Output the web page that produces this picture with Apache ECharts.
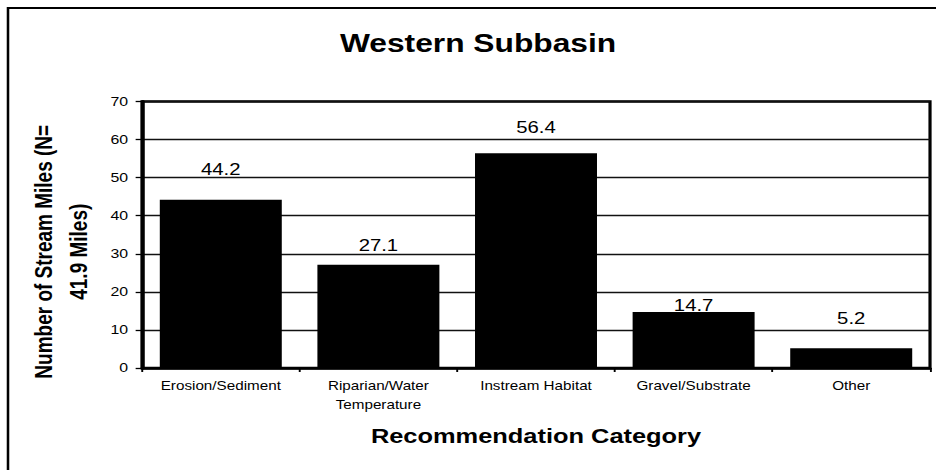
<!DOCTYPE html>
<html>
<head>
<meta charset="utf-8">
<script src="https://cdn.jsdelivr.net/npm/echarts@6/dist/echarts.min.js"></script>
<style>
  html, body { margin: 0; padding: 0; background: #fff; overflow: hidden; }
  #chart { width: 737px; height: 470px; transform: scaleX(1.27); transform-origin: 0 0; }
</style>
</head>
<body>
<div id="chart"></div>
<script>
// ---- data ----
const categories = ['Erosion/Sediment', 'Riparian/Water\nTemperature', 'Instream Habitat', 'Gravel/Substrate', 'Other'];
const streamMiles = [44.2, 27.1, 56.4, 14.7, 5.2];
const titleText = 'Western Subbasin';
const xAxisTitle = 'Recommendation Category';
const yAxisTitle = 'Number of Stream Miles (N=\n41.9 Miles)';
const yMin = 0, yMax = 70, yStep = 10;

// ---- style (label gaps above each bar) ----
const labelGaps = [22.5, 12, 18, -1, 21.5];
const FONT = "'Liberation Sans', Arial, sans-serif";

const chart = echarts.init(document.getElementById('chart'), null, { renderer: 'svg' });
chart.setOption({
  backgroundColor: '#fff',
  animation: false,
  graphic: [
    { type: 'rect', z: 100, silent: true,
      shape: { x: 6.3, y: 8, width: 900, height: 600 },
      style: { fill: 'none', stroke: '#000', lineWidth: 2 } },
    { type: 'text', x: 376.4, y: 43, z: 100,
      style: { text: titleText, align: 'center', verticalAlign: 'middle',
               fontSize: 25, fontWeight: 'bold', fontFamily: FONT, fill: '#000' } }
  ],
  grid: { left: 111.8, right: 4.7, top: 101.5, bottom: 102, show: true,
          borderColor: '#000', borderWidth: 2.5, backgroundColor: 'transparent' },
  xAxis: {
    type: 'category', data: categories,
    axisLine: { lineStyle: { color: '#000', width: 2.5 } },
    axisTick: { show: true, length: 4, lineStyle: { color: '#000', width: 1.5 } },
    axisLabel: { color: '#000', fontSize: 12, fontFamily: FONT, margin: 9, lineHeight: 18.5, interval: 0 },
    name: xAxisTitle, nameLocation: 'middle', nameGap: 58,
    nameTextStyle: { color: '#000', fontSize: 20, fontWeight: 'bold', fontFamily: FONT }
  },
  yAxis: {
    type: 'value', min: yMin, max: yMax, interval: yStep,
    axisLine: { show: true, lineStyle: { color: '#000', width: 3 } },
    axisTick: { show: true, length: 5, lineStyle: { color: '#000', width: 1.3 } },
    axisLabel: { color: '#000', fontSize: 12.5, fontFamily: FONT, margin: 11 },
    splitLine: { show: true, lineStyle: { color: '#111', width: 1.3 } },
    name: yAxisTitle, nameLocation: 'middle', nameGap: 32,
    nameTextStyle: { color: '#000', fontSize: 19, fontWeight: 'bold', fontFamily: FONT,
                     lineHeight: 27.5, padding: [0, 34, 0, 0] }
  },
  series: [{
    type: 'bar',
    data: streamMiles.map((v, i) => ({ value: v, label: { distance: labelGaps[i] } })),
    barCategoryGap: '22.6%',
    itemStyle: { color: '#000' },
    label: { show: true, position: 'top', color: '#000', fontSize: 16, fontFamily: FONT,
             formatter: p => p.value.toFixed(1) }
  }]
});
</script>
</body>
</html>
